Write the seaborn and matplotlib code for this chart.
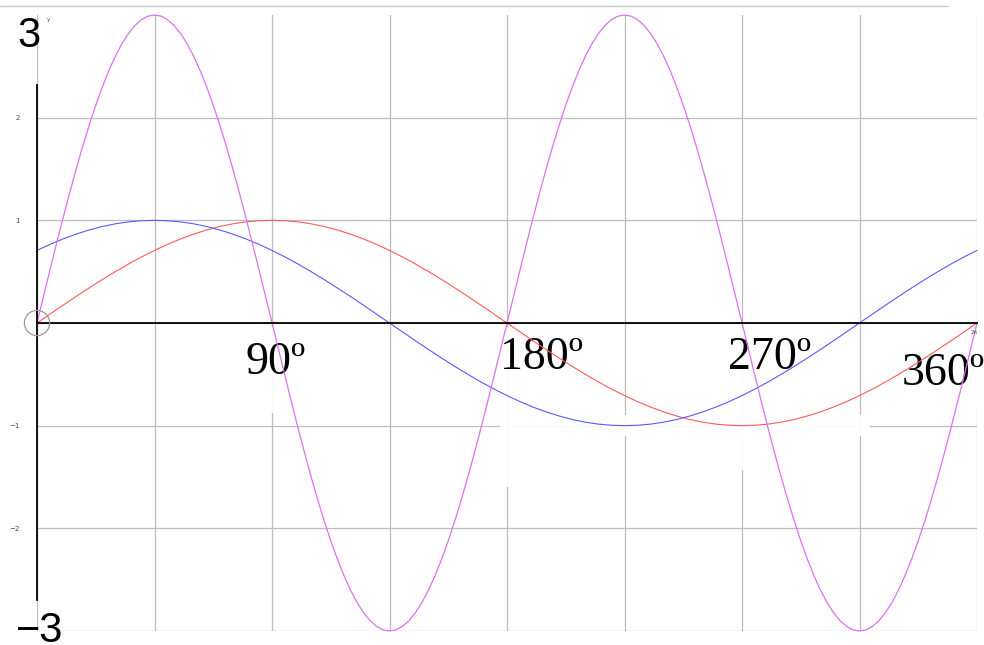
import matplotlib
matplotlib.use("Agg")
import matplotlib.pyplot as plt
import seaborn as sns
from matplotlib.lines import Line2D
from matplotlib.patches import Rectangle

# angles in degrees, every 5 degrees
x_deg = [0, 5, 10, 15, 20, 25, 30, 35, 40, 45, 50, 55, 60, 65, 70, 75, 80, 85, 90,
         95, 100, 105, 110, 115, 120, 125, 130, 135, 140, 145, 150, 155, 160, 165, 170, 175, 180,
         185, 190, 195, 200, 205, 210, 215, 220, 225, 230, 235, 240, 245, 250, 255, 260, 265, 270,
         275, 280, 285, 290, 295, 300, 305, 310, 315, 320, 325, 330, 335, 340, 345, 350, 355, 360]

# red curve
red_y = [0.0, 0.087, 0.174, 0.259, 0.342, 0.423, 0.5, 0.574, 0.643, 0.707, 0.766, 0.819, 0.866, 0.906, 0.94, 0.966, 0.985, 0.996, 1.0,
         0.996, 0.985, 0.966, 0.94, 0.906, 0.866, 0.819, 0.766, 0.707, 0.643, 0.574, 0.5, 0.423, 0.342, 0.259, 0.174, 0.087, 0.0,
         -0.087, -0.174, -0.259, -0.342, -0.423, -0.5, -0.574, -0.643, -0.707, -0.766, -0.819, -0.866, -0.906, -0.94, -0.966, -0.985, -0.996, -1.0,
         -0.996, -0.985, -0.966, -0.94, -0.906, -0.866, -0.819, -0.766, -0.707, -0.643, -0.574, -0.5, -0.423, -0.342, -0.259, -0.174, -0.087, 0.0]

# blue curve
blue_y = [0.707, 0.766, 0.819, 0.866, 0.906, 0.94, 0.966, 0.985, 0.996, 1.0,
          0.996, 0.985, 0.966, 0.94, 0.906, 0.866, 0.819, 0.766, 0.707, 0.643, 0.574, 0.5, 0.423, 0.342, 0.259, 0.174, 0.087, 0.0,
          -0.087, -0.174, -0.259, -0.342, -0.423, -0.5, -0.574, -0.643, -0.707, -0.766, -0.819, -0.866, -0.906, -0.94, -0.966, -0.985, -0.996, -1.0,
          -0.996, -0.985, -0.966, -0.94, -0.906, -0.866, -0.819, -0.766, -0.707, -0.643, -0.574, -0.5, -0.423, -0.342, -0.259, -0.174, -0.087, 0.0,
          0.087, 0.174, 0.259, 0.342, 0.423, 0.5, 0.574, 0.643, 0.707]

# angles every 2.5 degrees for the fast curve
x_fine = [0, 2.5, 5, 7.5, 10, 12.5, 15, 17.5, 20, 22.5, 25, 27.5, 30, 32.5, 35, 37.5, 40, 42.5, 45,
          47.5, 50, 52.5, 55, 57.5, 60, 62.5, 65, 67.5, 70, 72.5, 75, 77.5, 80, 82.5, 85, 87.5, 90,
          92.5, 95, 97.5, 100, 102.5, 105, 107.5, 110, 112.5, 115, 117.5, 120, 122.5, 125, 127.5, 130, 132.5, 135,
          137.5, 140, 142.5, 145, 147.5, 150, 152.5, 155, 157.5, 160, 162.5, 165, 167.5, 170, 172.5, 175, 177.5, 180,
          182.5, 185, 187.5, 190, 192.5, 195, 197.5, 200, 202.5, 205, 207.5, 210, 212.5, 215, 217.5, 220, 222.5, 225,
          227.5, 230, 232.5, 235, 237.5, 240, 242.5, 245, 247.5, 250, 252.5, 255, 257.5, 260, 262.5, 265, 267.5, 270,
          272.5, 275, 277.5, 280, 282.5, 285, 287.5, 290, 292.5, 295, 297.5, 300, 302.5, 305, 307.5, 310, 312.5, 315,
          317.5, 320, 322.5, 325, 327.5, 330, 332.5, 335, 337.5, 340, 342.5, 345, 347.5, 350, 352.5, 355, 357.5, 360]

# magenta curve
magenta_y = [0.0, 0.261, 0.521, 0.776, 1.026, 1.268, 1.5, 1.721, 1.928, 2.121, 2.298, 2.457, 2.598, 2.719, 2.819, 2.898, 2.954, 2.989, 3.0,
             2.989, 2.954, 2.898, 2.819, 2.719, 2.598, 2.457, 2.298, 2.121, 1.928, 1.721, 1.5, 1.268, 1.026, 0.776, 0.521, 0.261, 0.0,
             -0.261, -0.521, -0.776, -1.026, -1.268, -1.5, -1.721, -1.928, -2.121, -2.298, -2.457, -2.598, -2.719, -2.819, -2.898, -2.954, -2.989, -3.0,
             -2.989, -2.954, -2.898, -2.819, -2.719, -2.598, -2.457, -2.298, -2.121, -1.928, -1.721, -1.5, -1.268, -1.026, -0.776, -0.521, -0.261, 0.0,
             0.261, 0.521, 0.776, 1.026, 1.268, 1.5, 1.721, 1.928, 2.121, 2.298, 2.457, 2.598, 2.719, 2.819, 2.898, 2.954, 2.989, 3.0,
             2.989, 2.954, 2.898, 2.819, 2.719, 2.598, 2.457, 2.298, 2.121, 1.928, 1.721, 1.5, 1.268, 1.026, 0.776, 0.521, 0.261, 0.0,
             -0.261, -0.521, -0.776, -1.026, -1.268, -1.5, -1.721, -1.928, -2.121, -2.298, -2.457, -2.598, -2.719, -2.819, -2.898, -2.954, -2.989, -3.0,
             -2.989, -2.954, -2.898, -2.819, -2.719, -2.598, -2.457, -2.298, -2.121, -1.928, -1.721, -1.5, -1.268, -1.026, -0.776, -0.521, -0.261, 0.0]

origin_x = [0]
origin_y = [0]

x_ticks = [0, 45, 90, 135, 180, 225, 270, 315, 360]
y_ticks = [-3, -2, -1, 0, 1, 2]
y_tick_labels = ["", "\u22122", "\u22121", "", "1", "2"]

deg_labels = ["90º", "180º", "270º", "360º"]
deg_label_x = [91.5, 193.4, 280.7, 347]
deg_label_y = [-0.39, -0.34, -0.34, -0.49]

sns.set_style("white")

fig = plt.figure(figsize=(9.84, 6.45), dpi=100)
ax = fig.add_axes([37 / 984, 14 / 645, 940 / 984, 616 / 645])

sns.lineplot(x=x_deg, y=red_y, ax=ax, color="#ff5a5a", linewidth=0.8,
             sort=False, estimator=None, clip_on=False, zorder=2)
sns.lineplot(x=x_deg, y=blue_y, ax=ax, color="#5a5aff", linewidth=0.8,
             sort=False, estimator=None, clip_on=False, zorder=2)
sns.lineplot(x=x_fine, y=magenta_y, ax=ax, color="#d873f0", linewidth=0.9,
             sort=False, estimator=None, clip_on=False, zorder=2.1)
sns.scatterplot(x=origin_x, y=origin_y, ax=ax, s=330, facecolor="none",
                edgecolor="#999999", linewidth=0.9, clip_on=False, zorder=3)

ax.set_xlim(0, 360)
ax.set_ylim(-3, 3)
ax.set_xticks(x_ticks)
ax.set_xticklabels([])
ax.set_yticks(y_ticks)
ax.set_yticklabels(y_tick_labels)

ax.set_axisbelow(True)
ax.grid(True, color="#bdbdbd", linewidth=0.9)

for s in ["top", "right"]:
    ax.spines[s].set_visible(False)
ax.spines["bottom"].set_position(("data", 0))
ax.spines["bottom"].set_color("black")
ax.spines["bottom"].set_linewidth(1.3)
ax.spines["left"].set_color("black")
ax.spines["left"].set_linewidth(1.3)
ax.spines["left"].set_bounds(-2.7, 2.32)

ax.tick_params(axis="both", direction="inout", length=5, width=1, color="black")
ax.tick_params(axis="y", pad=10, labelsize=5, labelcolor="#444444")

# white patches behind the degree labels (hide the grid there)
patches = [(80.4, -0.88, 22.2, 0.84), (177.3, -1.6, 32.6, 1.56),
           (209.9, -1.1, 109.1, 0.2), (263.5, -1.43, 33.3, 1.39),
           (330.5, -0.85, 32.2, 0.73)]
for px, py, pw, ph in patches:
    ax.add_patch(Rectangle((px, py), pw, ph, facecolor="white", edgecolor="none",
                           alpha=0.93, zorder=1.7, clip_on=False))

for lab, lx, ly in zip(deg_labels, deg_label_x, deg_label_y):
    ax.text(lx, ly, lab, fontsize=33, family="Liberation Serif", ha="center",
            va="center", zorder=1.8, color="black")

ax.text(-3.1, 2.80, "3", fontsize=30, family="Liberation Sans", ha="center",
        va="center", clip_on=False, color="black")
ax.text(1.2, -3.0, "\u22123", fontsize=30, family="Liberation Sans", ha="center",
        va="center", clip_on=False, color="black")
ax.text(4.5, 2.96, "y", fontsize=4, ha="center", va="center", color="#444444")
ax.text(359, -0.09, "2π", fontsize=4, ha="center", va="center", color="#444444")

fig.add_artist(Line2D([0, 948 / 984], [1 - 6 / 645, 1 - 6 / 645],
                      color="#c8c8c8", linewidth=1, transform=fig.transFigure))

fig.savefig("out.png", dpi=100)
